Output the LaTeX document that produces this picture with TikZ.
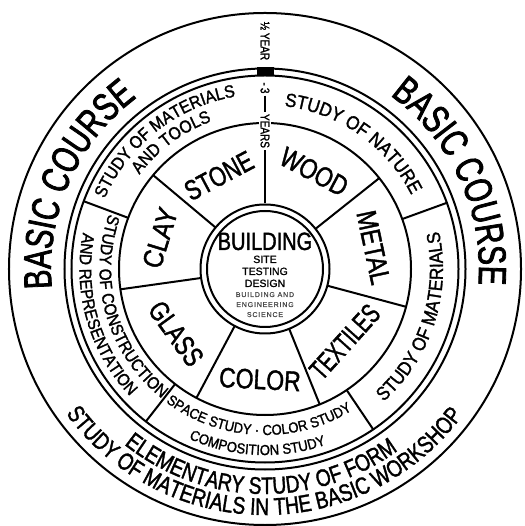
\documentclass[tikz,border=0pt]{standalone}
\usepackage{fontspec}
\setmainfont{Liberation Sans}
\newfontfamily\narrowA[FakeStretch=0.74, FakeBold=2]{Liberation Sans}
\newfontfamily\narrowB[FakeStretch=0.8, FakeBold=1.5]{Liberation Sans}
\newfontfamily\narrowC[FakeStretch=0.9, FakeBold=1.5]{Liberation Sans}
\newfontfamily\plainbold[FakeBold=1]{Liberation Sans}
\newfontfamily\spaced[LetterSpace=12, FakeBold=0.8]{Liberation Sans}
\usetikzlibrary{decorations.text}

\newcommand{\coursefont}{\narrowA\fontsize{39}{39}\selectfont}
\newcommand{\outerfont}{\narrowB\fontsize{24}{24}\selectfont}
\newcommand{\studyfont}{\narrowC\fontsize{19}{19}\selectfont}
\newcommand{\toolsfont}{\narrowC\fontsize{17.5}{17.5}\selectfont}
\newcommand{\constrfont}{\narrowC\fontsize{17}{17}\selectfont}
\newcommand{\spacefont}{\narrowC\fontsize{14.5}{14.5}\selectfont}

\begin{document}
\begin{tikzpicture}[
    x=1pt, y=1pt,
    ring/.style={line width=2pt},
    material/.style={font=\narrowC\fontsize{28}{28}\selectfont, inner sep=0pt},
    column/.style={rotate=-90, inner sep=2pt, font=\narrowB\fontsize{12.5}{12.5}\selectfont},
    midline/.style={anchor=base, font=\plainbold\fontsize{10.5}{10.5}\selectfont},
    tinyline/.style={anchor=base, text=black!70, font=\spaced\fontsize{7}{7}\selectfont},
    curved/.style={decorate, decoration={text along path, text align=center, text={#1}}}
]

% Frame
\useasboundingbox (-265,-257) rectangle (259,269);
\fill[white] (-265,-257) rectangle (259,269);

% Rings
\draw[ring] (0,0) circle[radius=256];
\draw[ring] (0,0) circle[radius=200.5];
\draw[ring] (0,0) circle[radius=193.5];
\draw[ring] (0,0) circle[radius=146];

% Core
\node[circle, draw, ring, minimum size=129pt, inner sep=0pt] (core) at (0,0) {};
\node[circle, draw, ring, minimum size=116pt, inner sep=0pt] (coreinner) at (0,0) {};

% Dividers of the material ring
\draw[ring] (38.5:64.5) -- (38.5:146);
\draw[ring] (140:64.5) -- (140:146);
\draw[ring] (188:64.5) -- (188:146);
\draw[ring] (242:64.5) -- (242:146);
\draw[ring] (292:64.5) -- (292:146);
\draw[ring] (345:64.5) -- (345:146);

% Dividers of the study ring
\draw[ring] (20:146) -- (20:193.5);
\draw[ring] (159.5:146) -- (159.5:193.5);
\draw[ring] (232:146) -- (232:193.5);
\draw[ring] (304:146) -- (304:193.5);

% Time column at the top
\fill (-8,192.5) rectangle (9,201.5);
\node[column] (halfyear) at (0,228) {½ YEAR};
\node[column] (three) at (0,181) {-\,3};
\node[column, fill=white] (years) at (0,138) {YEARS};
\draw[line width=2.5pt] (three.east) -- (years.west);
\draw[ring] (years.east) -- (core.north);

% Centre
\node[anchor=base, font=\narrowB\fontsize{25}{25}\selectfont] (building) at (0,19) {BUILDING};
\node[midline] (site) at (0,6) {SITE};
\node[midline] (testing) at (0,-6) {TESTING};
\node[midline] (design) at (0,-18) {DESIGN};
\node[tinyline] (bldgand) at (0,-28) {BUILDING AND};
\node[tinyline] (engineering) at (0,-38) {ENGINEERING};
\node[tinyline] (science) at (0,-48) {SCIENCE};

% Materials
\node[material, rotate=28] (stone) at (116.3:104) {\scalebox{.85}[1]{STONE}};
\node[material, rotate=-28] (wood) at (63.2:109) {\scalebox{.89}[1]{WOOD}};
\node[material, rotate=73] (clay) at (163.5:109.5) {\scalebox{.96}[1]{CLAY}};
\node[material, rotate=-54] (glass) at (216:110) {\scalebox{.86}[1]{GLASS}};
\node[material, rotate=-3] (color) at (267.4:110.6) {\scalebox{.91}[1]{COLOR}};
\node[material, rotate=48] (textiles) at (317.6:108) {\scalebox{.75}[1]{TEXTILES}};
\node[material, rotate=-78] (metal) at (11.2:110.6) {\scalebox{.91}[1]{METAL}};

% Studies
\path[curved={|\studyfont|STUDY OF NATURE}] (105:164) arc[start angle=105, end angle=5, radius=164];
\path[curved={|\studyfont|STUDY OF MATERIALS}] (-88:178) arc[start angle=-88, end angle=52, radius=178];
\path[curved={|\toolsfont|STUDY OF MATERIALS}] (198:175) arc[start angle=198, end angle=58, radius=175];
\path[curved={|\toolsfont|AND TOOLS}] (196.5:157) arc[start angle=196.5, end angle=56.5, radius=157];
\path[curved={|\constrfont|STUDY OF CONSTRUCTION}] (126:165.5) arc[start angle=126, end angle=266, radius=165.5];
\path[curved={|\constrfont|AND REPRESENTATION}] (126:185.5) arc[start angle=126, end angle=266, radius=185.5];
\path[curved={|\spacefont|SPACE STUDY · COLOR STUDY}] (197.5:166) arc[start angle=197.5, end angle=337.5, radius=166];
\path[curved={|\spacefont|COMPOSITION STUDY}] (197.5:186) arc[start angle=197.5, end angle=337.5, radius=186];

% Basic course
\path[curved={|\coursefont|BASIC COURSE}] (216:214) arc[start angle=216, end angle=96, radius=214];
\path[curved={|\coursefont|BASIC COURSE}] (85:214) arc[start angle=85, end angle=-35, radius=214];
\path[curved={|\outerfont|ELEMENTARY STUDY OF FORM}] (188.75:225) arc[start angle=188.75, end angle=348.75, radius=225];
\path[curved={|\outerfont|STUDY OF MATERIALS IN THE BASIC WORKSHOP}] (189.8:246) arc[start angle=189.8, end angle=349.8, radius=246];

\end{tikzpicture}
\end{document}
